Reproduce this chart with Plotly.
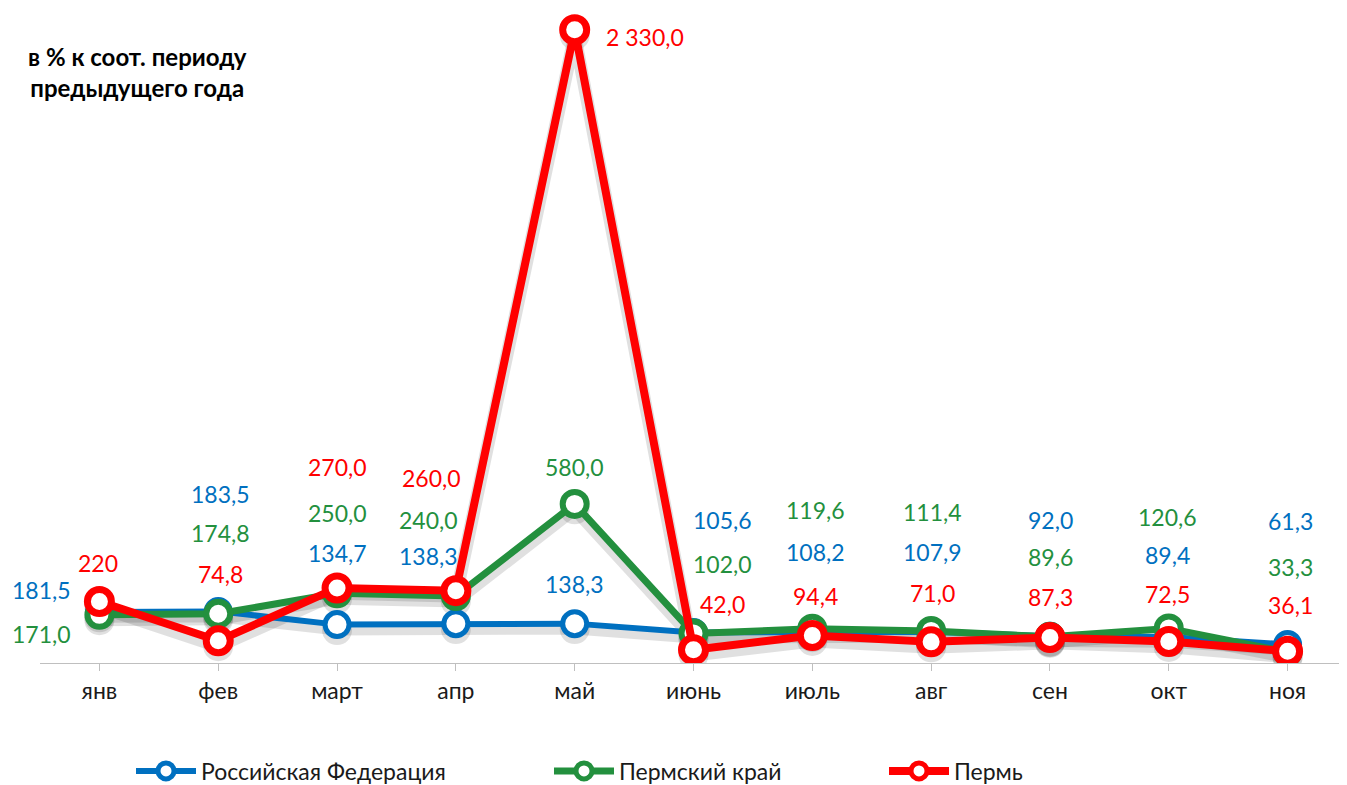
import plotly.graph_objects as go

months = ["янв", "фев", "март", "апр", "май", "июнь", "июль", "авг", "сен", "окт", "ноя"]

rf_vals = [181.5, 183.5, 134.7, 138.3, 138.3, 105.6, 108.2, 107.9, 92.0, 89.4, 61.3]
pk_vals = [171.0, 174.8, 250.0, 240.0, 580.0, 102.0, 119.6, 111.4, 89.6, 120.6, 33.3]
perm_vals = [220, 74.8, 270.0, 260.0, 2330.0, 42.0, 94.4, 71.0, 87.3, 72.5, 36.1]

rf_labels = ["181,5", "183,5", "134,7", "138,3", "138,3", "105,6", "108,2", "107,9", "92,0", "89,4", "61,3"]
pk_labels = ["171,0", "174,8", "250,0", "240,0", "580,0", "102,0", "119,6", "111,4", "89,6", "120,6", "33,3"]
perm_labels = ["220", "74,8", "270,0", "260,0", "2 330,0", "42,0", "94,4", "71,0", "87,3", "72,5", "36,1"]

series_names = ["Российская Федерация", "Пермский край", "Пермь"]

# label offsets (pixels) relative to each point
rf_dx = [-58, 2, 0, -27, 0, 29, 3, 1, 1, -1, 3]
rf_dy = [22, 117, 72, 68, 40, 112, 80, 80, 116, 82, 123]
pk_dx = [-58, 2, 0, -27, 0, 29, 3, 1, 1, -1, 3]
pk_dy = [-19, 81, 80, 76, 37, 69, 119, 119, 80, 111, 85]
perm_dx = [-1, 2, 0, -24, 70, 29, 3, 1, 1, -1, 3]
perm_dy = [38, 67, 121, 113, -7, 46, 40, 49, 40, 47, 46]

BLUE = "#0070C0"
GREEN = "#23903E"
RED = "#FF0000"
FONT = "Lato"
W, H = 1339, 777
ML, MT, MB = 32, 2, 122
PW, PH = W - ML, H - MT - MB

x_idx = list(range(len(months)))

fig = go.Figure()

styles = [
    (rf_vals, BLUE, 6, 5, "legend"),
    (pk_vals, GREEN, 7, 6, "legend2"),
    (perm_vals, RED, 8, 7, "legend3"),
]

# soft drop shadows (drawn on the base axis, offset a few pixels down)
for vals, col, lw, mlw, leg in styles:
    fig.add_trace(go.Scatter(
        x=x_idx, y=vals, mode="lines+markers", showlegend=False,
        line=dict(color="rgba(0,0,0,0.12)", width=lw + 5),
        marker=dict(symbol="circle", size=30, color="rgba(0,0,0,0.12)", line=dict(width=0)),
        hoverinfo="skip", yaxis="y",
    ))

for name, (vals, col, lw, mlw, leg) in zip(series_names, styles):
    fig.add_trace(go.Scatter(
        x=x_idx, y=vals, name=name, mode="lines+markers",
        line=dict(color=col, width=lw),
        marker=dict(symbol="circle", size=24, color="white", line=dict(color=col, width=mlw)),
        legend=leg, hoverinfo="skip", yaxis="y2",
    ))

annotations = []
for vals, labels, dxs, dys, col in [
    (rf_vals, rf_labels, rf_dx, rf_dy, BLUE),
    (pk_vals, pk_labels, pk_dx, pk_dy, GREEN),
    (perm_vals, perm_labels, perm_dx, perm_dy, RED),
]:
    for i, (v, t, dx, dy) in enumerate(zip(vals, labels, dxs, dys)):
        annotations.append(dict(
            x=i, y=v, xref="x", yref="y2", text=t, showarrow=False,
            xshift=dx, yshift=dy, font=dict(family=FONT, size=23, color=col),
            xanchor="center", yanchor="middle",
        ))

annotations.append(dict(
    x=(129 - ML) / PW, y=(MT + PH - 64) / PH, xref="paper", yref="paper",
    text="<b>в % к соот. периоду<br>предыдущего года</b>", showarrow=False,
    align="center", xanchor="center", yanchor="middle",
    font=dict(family=FONT, size=24, color="black"),
))

leg_common = dict(orientation="h", xref="container", yref="container",
                  yanchor="middle", xanchor="left", itemwidth=60,
                  font=dict(family=FONT, size=23, color="#1a1a1a"),
                  bgcolor="rgba(0,0,0,0)")

fig.update_layout(
    width=W, height=H,
    margin=dict(l=ML, r=0, t=MT, b=MB),
    plot_bgcolor="white", paper_bgcolor="white",
    showlegend=True,
    legend=dict(x=123 / W, y=1 - 763 / H, **leg_common),
    legend2=dict(x=541 / W, y=1 - 763 / H, **leg_common),
    legend3=dict(x=876 / W, y=1 - 763 / H, **leg_common),
    annotations=annotations,
    xaxis=dict(
        tickmode="array", tickvals=x_idx, ticktext=months,
        range=[-0.5, len(months) - 0.5],
        showline=True, linecolor="#BFBFBF", linewidth=1,
        ticks="outside", ticklen=7, tickcolor="#BFBFBF",
        showgrid=False, zeroline=False,
        tickfont=dict(family=FONT, size=23, color="#1a1a1a"),
    ),
    yaxis=dict(range=[-7 + 20, 2403 + 20], visible=False, showgrid=False, zeroline=False),
    yaxis2=dict(range=[-7, 2403], visible=False, showgrid=False, zeroline=False,
                overlaying="y"),
)

fig.write_html("out.html")
